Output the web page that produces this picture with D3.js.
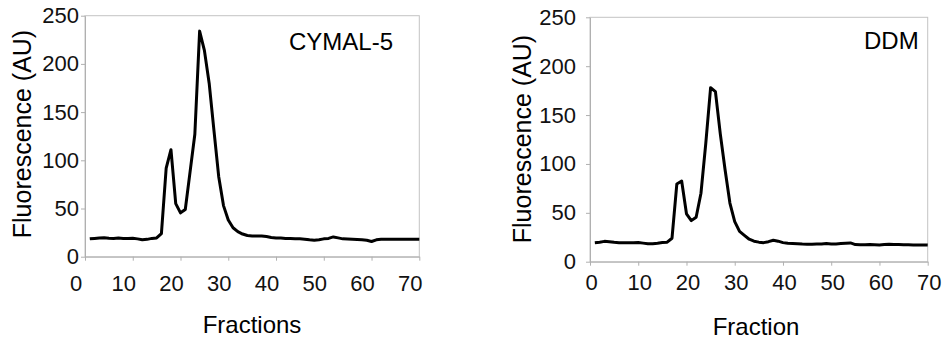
<!DOCTYPE html>
<html>
<head>
<meta charset="utf-8">
<script src="https://cdn.jsdelivr.net/npm/d3@7"></script>
<style>
  html, body { margin: 0; padding: 0; background: #fff; }
  svg { display: block; font-family: "Liberation Sans", Arial, sans-serif; }
  .frame { fill: none; stroke: #c4c4c4; stroke-width: 1; }
  .tick line { stroke: #b0b0b0; }
  .domain { stroke: #b0b0b0; }
  .tick text { fill: #111; }
</style>
</head>
<body>
<svg id="chart" width="944" height="341"></svg>
<script>
// fraction numbers shared by both runs
const fractions = d3.range(1, 71);

// CYMAL-5 run (left panel)
const cymal5Values = [
  18.5, 19, 19.5, 19.7, 19.2, 19, 19.3, 19, 19, 19.2,
  18.5, 17.5, 18, 19, 19.5, 24, 92, 111, 55, 45.5,
  49, 88, 127, 234, 214, 180, 131, 83, 53, 38,
  30, 26, 23.5, 22, 21.5, 21.5, 21.5, 21, 20, 19.5,
  19.5, 19, 18.8, 18.5, 18.5, 18.2, 17.5, 17, 17.5, 18.5,
  19, 20.5, 19.5, 18.5, 18.3, 18, 17.8, 17.5, 17, 15.8,
  17.5, 18, 18, 18.2, 18, 18, 18, 18.2, 18, 18
];

// DDM run (right panel)
const ddmValues = [
  19.5, 20, 20.8, 20.5, 19.8, 19.4, 19.4, 19.4, 19.4, 19.6,
  19, 18.4, 18.3, 18.8, 19.6, 20, 24, 79.5, 82.5, 49,
  42, 45.5, 70, 121, 178, 174, 131, 94, 60, 41,
  31, 27, 23, 21, 20, 19.5, 20.5, 22, 21, 19.5,
  18.8, 18.6, 18.4, 18, 17.8, 17.8, 18, 18.2, 18.6, 18.2,
  18.2, 18.5, 18.8, 19.2, 17.5, 17.4, 17.4, 17.5, 17.4, 17.2,
  17.5, 17.9, 17.6, 17.5, 17.4, 17.3, 17.2, 17.2, 17.2, 17
];

const xTicks = [0, 10, 20, 30, 40, 50, 60, 70];
const yTicks = [0, 50, 100, 150, 200, 250];

const svg = d3.select("#chart");

function drawPanel(opt) {
  const x = d3.scaleLinear().domain([0, 70]).range([opt.left, opt.right]);
  const y = d3.scaleLinear().domain([0, 250]).range([opt.bottom, opt.top]);
  const g = svg.append("g");

  // light plot frame
  g.append("rect")
    .attr("class", "frame")
    .attr("x", opt.left)
    .attr("y", opt.top)
    .attr("width", opt.right - opt.left)
    .attr("height", opt.bottom - opt.top);

  const xAxis = g.append("g")
    .attr("transform", `translate(0,${opt.bottom})`)
    .call(d3.axisBottom(x).tickValues(xTicks).tickSize(4).tickSizeOuter(0));
  xAxis.selectAll(".tick text")
    .attr("dx", opt.xLabelShift)
    .attr("y", opt.xLabelY)
    .style("font-size", "22px");

  const yAxis = g.append("g")
    .attr("transform", `translate(${opt.left},0)`)
    .call(d3.axisLeft(y).tickValues(yTicks).tickSize(4).tickSizeOuter(0));
  yAxis.selectAll(".tick text")
    .attr("x", -opt.yLabelGap)
    .style("font-size", "22px");

  const line = d3.line()
    .x((d, i) => x(fractions[i]))
    .y(d => y(d));

  g.append("path")
    .datum(opt.values)
    .attr("fill", "none")
    .attr("stroke", "#000")
    .attr("stroke-width", 3)
    .attr("stroke-linejoin", "round")
    .attr("d", line);

  // axis titles
  g.append("text")
    .attr("transform", `translate(${opt.yTitleX},${opt.yTitleMid}) rotate(-90)`)
    .attr("text-anchor", "middle")
    .style("font-size", "25px")
    .text("Fluorescence (AU)");

  g.append("text")
    .attr("x", opt.xTitleX)
    .attr("y", opt.xTitleY)
    .attr("text-anchor", "middle")
    .style("font-size", "24px")
    .text(opt.xTitle);

  // detergent label
  g.append("text")
    .attr("x", opt.labelX)
    .attr("y", opt.labelY)
    .attr("text-anchor", "end")
    .style("font-size", "24px")
    .text(opt.label);
}

drawPanel({
  values: cymal5Values,
  left: 85, right: 419.3, top: 15.7, bottom: 256.7,
  xLabelShift: -9.5, xLabelY: 19, yLabelGap: 6,
  yTitleX: 31, yTitleMid: 134, xTitleX: 252, xTitleY: 333,
  xTitle: "Fractions", label: "CYMAL-5", labelX: 393, labelY: 49.5
});

drawPanel({
  values: ddmValues,
  left: 590, right: 927.7, top: 17.3, bottom: 261.7,
  xLabelShift: 1, xLabelY: 13, yLabelGap: 14,
  yTitleX: 531, yTitleMid: 139, xTitleX: 756, xTitleY: 335,
  xTitle: "Fraction", label: "DDM", labelX: 918.7, labelY: 48.5
});
</script>
</body>
</html>
